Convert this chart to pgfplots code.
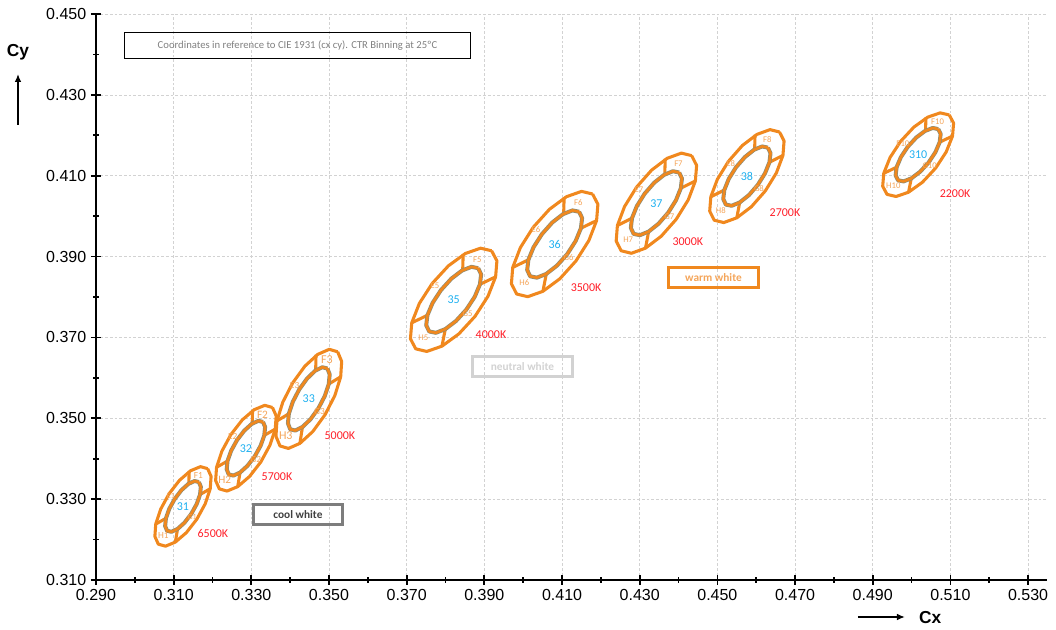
\documentclass[border=0pt]{standalone}
\usepackage{pgfplots}
\pgfplotsset{compat=1.18}
\usepackage{pgfplotstable}
\usepackage{fontspec}
\setmainfont{Liberation Sans}
\newfontfamily\calfont{Carlito}
\usetikzlibrary{calc,arrows.meta}
\definecolor{orng}{RGB}{240,136,30}
\definecolor{lorng}{RGB}{244,165,90}
\definecolor{ingray}{RGB}{140,140,118}
\definecolor{cyn}{RGB}{30,176,240}
\definecolor{cctred}{RGB}{255,30,40}
\definecolor{boxgray}{RGB}{125,125,125}
\definecolor{lboxgray}{RGB}{210,210,210}

% bin outline read off bin 35, in pixel offsets from its centre (y up)
\pgfplotstableread{
dx dy
37.94 49.04
26.88 51.64
11.73 46.36
-5.20 34.06
-21.36 16.52
-34.28 -3.52
-41.93 -23.00
-43.24 -38.98
-37.94 -49.04
-26.88 -51.64
-11.73 -46.36
5.20 -34.06
21.36 -16.52
34.28 3.52
41.93 23.00
43.24 38.98
37.94 49.04
}\outertab

\pgfplotstableread{
dx dy
24.48 31.64
17.78 32.98
8.36 29.29
-2.32 21.16
-12.66 9.79
-21.06 -3.06
-26.26 -15.45
-27.46 -25.48
-24.48 -31.64
-17.78 -32.98
-8.36 -29.29
2.32 -21.16
12.66 -9.79
21.06 3.06
26.26 15.45
27.46 25.48
24.48 31.64
}\innertab

\pgfplotstableread{
dx dy ux uy
9.0 29.5 0.5 16.5
26.26 15.45 15.67 7.55
-8.36 -29.29 -3.37 -17.07
-26.26 -15.45 -15.67 -7.55
}\divtab

% #1 cx, #2 cy, #3 sx, #4 sy, #5 name, #6 suffix, #7 size F/H, #8 size E/G
\newcommand{\bin}[8]{%
  \addplot[no marks, draw=orng, line width=2.3pt, line join=round]
    table[x expr={#1+#3*\thisrow{dx}*0.0002575}, y expr={#2+#4*\thisrow{dy}*0.0002473}] {\outertab};
  \addplot[no marks, draw=orng, line width=2.3pt,
    quiver={u={#3*\thisrow{ux}*0.0002575}, v={#4*\thisrow{uy}*0.0002473}}]
    table[x expr={#1+#3*\thisrow{dx}*0.0002575}, y expr={#2+#4*\thisrow{dy}*0.0002473}] {\divtab};
  \addplot[no marks, draw=ingray, line width=3pt, line join=round]
    table[x expr={#1+#3*\thisrow{dx}*0.0002575}, y expr={#2+#4*\thisrow{dy}*0.0002473}] {\innertab};
  \addplot[no marks, draw=orng, line width=2pt, line join=round]
    table[x expr={#1+#3*\thisrow{dx}*0.0002575}, y expr={#2+#4*\thisrow{dy}*0.0002473}] {\innertab};
  \node[text=cyn, font=\calfont\fontsize{9}{9}\selectfont] at (axis cs:#1,#2) {#5};
  \node[text=lorng, font=\calfont\fontsize{#8}{#8}\selectfont]
    at ([shift={({#3*(-18.7)*0.75pt},{#4*14*0.75pt})}]axis cs:#1,#2) {E#6};
  \node[text=lorng, font=\calfont\fontsize{#7}{#7}\selectfont]
    at ([shift={({#3*23.7*0.75pt},{#4*40.5*0.75pt})}]axis cs:#1,#2) {F#6};
  \node[text=lorng, font=\calfont\fontsize{#8}{#8}\selectfont]
    at ([shift={({#3*14*0.75pt},{#4*(-13.5)*0.75pt})}]axis cs:#1,#2) {G#6};
  \node[text=lorng, font=\calfont\fontsize{#7}{#7}\selectfont]
    at ([shift={({#3*(-30.3)*0.75pt},{#4*(-38)*0.75pt})}]axis cs:#1,#2) {H#6};
}

\begin{document}
\begin{tikzpicture}
\begin{axis}[
  scale only axis, width=713.6pt, height=424.5pt,
  xmin=0.29, xmax=0.535, ymin=0.31, ymax=0.45,
  axis lines*=left,
  axis line style={line width=1.6pt, black},
  xtick={0.29,0.31,0.33,0.35,0.37,0.39,0.41,0.43,0.45,0.47,0.49,0.51,0.53},
  ytick={0.31,0.33,0.35,0.37,0.39,0.41,0.43,0.45},
  minor xtick={0.30,0.32,0.34,0.36,0.38,0.40,0.42,0.44,0.46,0.48,0.50,0.52},
  minor y tick num=1,
  /pgf/number format/.cd, fixed, fixed zerofill, precision=3, assume math mode=true, /pgfplots/.cd,
  grid=major,
  major grid style={dash pattern=on 2pt off 1.5pt, gray!35, line width=0.5pt},
  tick align=center,
  major tick length=7.5pt, minor tick length=4pt,
  every tick/.style={black, line width=1.3pt},
  tick label style={font=\fontsize{12}{14}\selectfont},
  clip=false,
]
\bin{0.3124}{0.3282}{0.65}{0.77}{31}{1}{7}{6}
\bin{0.3286}{0.3426}{0.70}{0.83}{32}{2}{8.5}{7}
\bin{0.3448}{0.3548}{0.76}{0.96}{33}{3}{9}{7}
\bin{0.3821}{0.3793}{1}{1}{35}{5}{6.5}{6.5}
\bin{0.4081}{0.3931}{1}{1.02}{36}{6}{6.5}{6.5}
\bin{0.4343}{0.4032}{0.93}{0.97}{37}{7}{6.5}{6.5}
\bin{0.4576}{0.4099}{0.86}{0.90}{38}{8}{6.5}{6.5}
\bin{0.5017}{0.4152}{0.82}{0.81}{310}{10}{6.5}{6.5}

\begin{scope}[every node/.style={text=cctred, font=\calfont\fontsize{9}{9}\selectfont}]
\node at (axis cs:0.3201,0.3216) {6500K};
\node at (axis cs:0.3366,0.3355) {5700K};
\node at (axis cs:0.3528,0.3456) {5000K};
\node at (axis cs:0.3917,0.3706) {4000K};
\node at (axis cs:0.4162,0.3822) {3500K};
\node at (axis cs:0.4424,0.3936) {3000K};
\node at (axis cs:0.4674,0.4008) {2700K};
\node at (axis cs:0.5112,0.4055) {2200K};
\end{scope}

\node[draw=boxgray, line width=2.2pt, text=darkgray, font=\calfont\bfseries\fontsize{8.5}{8.5}\selectfont,
  minimum width=67pt, minimum height=15pt, inner sep=0pt] at (axis cs:0.3420,0.3263) {cool white};
\node[draw=lboxgray, line width=2.2pt, text=lboxgray, font=\calfont\bfseries\fontsize{8.5}{8.5}\selectfont,
  minimum width=75pt, minimum height=15pt, inner sep=0pt] at (axis cs:0.3998,0.3627) {neutral white};
\node[draw=orng, line width=2.2pt, text=lorng, font=\calfont\bfseries\fontsize{8.5}{8.5}\selectfont,
  minimum width=68pt, minimum height=15.5pt, inner sep=0pt] at (axis cs:0.4490,0.3848) {warm white};
\node[draw=black, line width=0.6pt, text=gray, font=\calfont\fontsize{8}{8}\selectfont,
  minimum width=259pt, minimum height=19pt, inner sep=0pt] at (axis cs:0.3419,0.4422)
  {Coordinates in reference to CIE 1931 (cx cy). CTR Binning at 25ºC};

\node[font=\bfseries\fontsize{13}{13}\selectfont] at ([shift={(-58.5pt,-28.5pt)}]axis cs:0.29,0.45) {Cy};
\draw[-{Latex[length=6pt,width=5pt]}, line width=1.1pt]
  ([shift={(-58.5pt,-83pt)}]axis cs:0.29,0.45) -- ([shift={(-58.5pt,-45pt)}]axis cs:0.29,0.45);
\node[font=\bfseries\fontsize{13}{13}\selectfont] at ([yshift=-28.5pt]axis cs:0.5048,0.31) {Cx};
\draw[-{Latex[length=6pt,width=5pt]}, line width=1.1pt]
  ([yshift=-27.75pt]axis cs:0.4862,0.31) -- ([yshift=-27.75pt]axis cs:0.4983,0.31);
\end{axis}
\pgfresetboundingbox
\path ($(current axis.south west)+(-72pt,-37.5pt)$) rectangle ($(current axis.north east)+(6.4pt,10.5pt)$);
\end{tikzpicture}
\end{document}
